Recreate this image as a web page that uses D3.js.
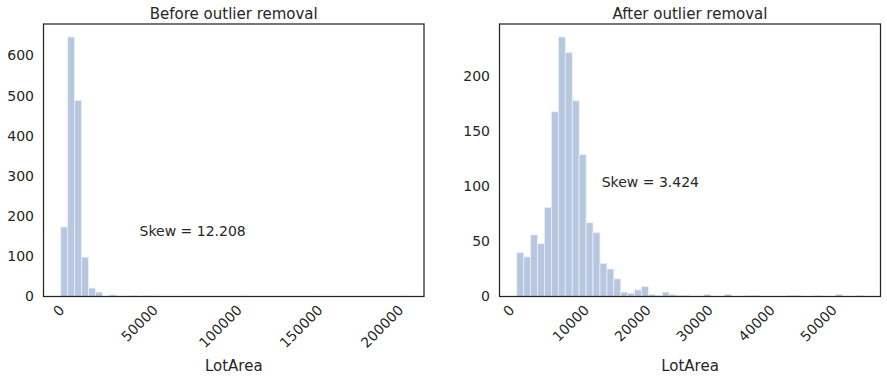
<!DOCTYPE html>
<html>
<head>
<meta charset="utf-8">
<script src="https://cdn.jsdelivr.net/npm/d3@7"></script>
<style>
  body { margin: 0; background: #fff; }
  svg text { font-family: "DejaVu Sans", sans-serif; fill: #262626; }
</style>
</head>
<body>
<div id="chart"></div>
<script>
// LotArea histograms, 50 equal bins each
var beforeRange = [1300, 215245];
var beforeCounts = [173, 646, 488, 98, 21, 11, 0, 4, 1, 1,
                    2, 1, 2, 1, 1, 0, 1, 0, 0, 0,
                    0, 0, 0, 0, 0, 0, 1, 0, 0, 0,
                    0, 0, 0, 0, 0, 0, 1, 0, 1, 0,
                    0, 0, 0, 0, 0, 0, 0, 0, 0, 1];
var beforeTicksX = [0, 50000, 100000, 150000, 200000];
var beforeTicksY = [0, 100, 200, 300, 400, 500, 600];

var afterRange = [1300, 57200];
var afterCounts = [40, 36, 56, 48, 81, 168, 236, 222, 178, 129,
                   67, 58, 30, 25, 16, 4, 3, 6, 9, 2,
                   1, 4, 2, 1, 1, 0, 0, 2, 0, 0,
                   2, 0, 0, 1, 1, 0, 0, 0, 0, 1,
                   1, 0, 0, 1, 0, 0, 2, 0, 0, 1];
var afterTicksX = [0, 10000, 20000, 30000, 40000, 50000];
var afterTicksY = [0, 50, 100, 150, 200];

var titles = ["Before outlier removal", "After outlier removal"];
var skewLabels = ["Skew = 12.208", "Skew = 3.424"];
var skewPos = [[50000, 150], [15000, 100]];

function init(){
    var w = 887;
    var h = 379;

    var svg = d3.select("#chart")
                .append("svg")
                .attr("width", w)
                .attr("height", h);

    var panels = [
        {left: 43.5, right: 424, range: beforeRange, counts: beforeCounts,
         ticksX: beforeTicksX, ticksY: beforeTicksY},
        {left: 499.5, right: 880.5, range: afterRange, counts: afterCounts,
         ticksX: afterTicksX, ticksY: afterTicksY}
    ];
    var top = 24, bottom = 296.5;

    panels.forEach(function(p, k){
        var span = p.range[1] - p.range[0];
        var x = d3.scaleLinear()
                  .domain([p.range[0] - span * 0.05, p.range[1] + span * 0.05])
                  .range([p.left, p.right]);
        var y = d3.scaleLinear()
                  .domain([0, d3.max(p.counts) * 1.05])
                  .range([bottom, top]);

        var binW = span / p.counts.length;
        var bins = p.counts.map(function(c, i){
            return {x0: p.range[0] + i * binW, x1: p.range[0] + (i + 1) * binW, n: c};
        });

        var g = svg.append("g");

        g.selectAll("rect")
            .data(bins)
            .enter()
            .append("rect")
            .attr("x", function(d){ return x(d.x0); })
            .attr("width", function(d){ return x(d.x1) - x(d.x0); })
            .attr("y", function(d){ return y(d.n); })
            .attr("height", function(d){ return bottom - y(d.n); })
            .style("fill", "rgb(183,199,223)")
            .style("stroke", "rgb(233,238,246)")
            .style("stroke-width", 0.8);

        // frame
        g.append("rect")
            .attr("x", p.left)
            .attr("y", top)
            .attr("width", p.right - p.left)
            .attr("height", bottom - top)
            .style("fill", "none")
            .style("stroke", "#262626")
            .style("stroke-width", 1.25);

        // y tick labels
        g.selectAll(".ytick")
            .data(p.ticksY)
            .enter()
            .append("text")
            .attr("class", "ytick")
            .attr("x", p.left - 9.5)
            .attr("y", function(d){ return y(d); })
            .attr("dy", "0.35em")
            .attr("text-anchor", "end")
            .style("font-size", "14px")
            .text(function(d){ return d; });

        // x tick labels, rotated 45 and centred on the tick
        g.selectAll(".xtick")
            .data(p.ticksX)
            .enter()
            .append("text")
            .attr("class", "xtick")
            .attr("text-anchor", "middle")
            .attr("dy", "0.35em")
            .style("font-size", "14px")
            .text(function(d){ return d; })
            .attr("transform", function(d){
                var tw = this.getComputedTextLength();
                var half = (tw + 14) * 0.7071 / 2;
                return "translate(" + x(d) + "," + (bottom + 6 + half) + ") rotate(-45)";
            });

        g.append("text")
            .attr("x", (p.left + p.right) / 2)
            .attr("y", 371)
            .attr("text-anchor", "middle")
            .style("font-size", "15px")
            .text("LotArea");

        g.append("text")
            .attr("x", (p.left + p.right) / 2)
            .attr("y", 19)
            .attr("text-anchor", "middle")
            .style("font-size", "15px")
            .text(titles[k]);

        g.append("text")
            .attr("x", x(skewPos[k][0]))
            .attr("y", y(skewPos[k][1]))
            .style("font-size", "14px")
            .text(skewLabels[k]);
    });
}
window.onload = init;
</script>
</body>
</html>
